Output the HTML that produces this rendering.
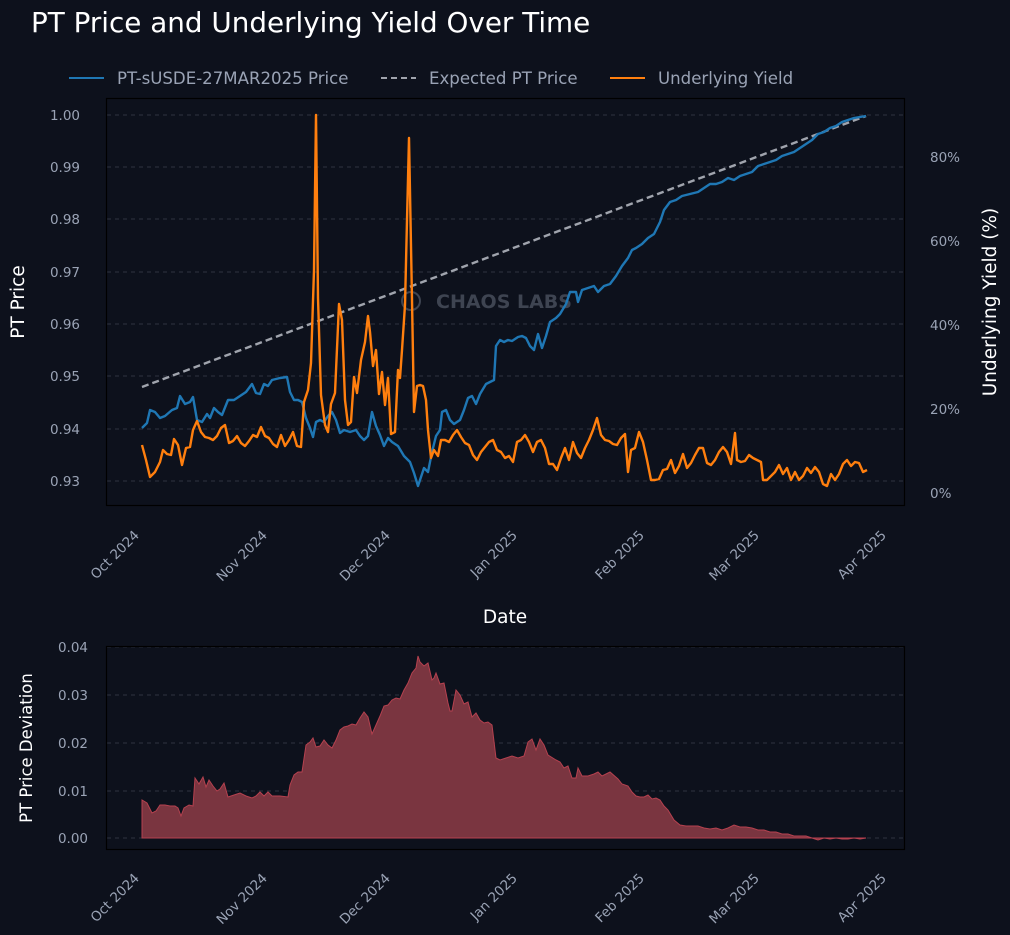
<!DOCTYPE html>
<html><head><meta charset="utf-8"><style>
html,body{margin:0;padding:0;background:#0d111c;}
svg{display:block;font-family:"DejaVu Sans","Liberation Sans",sans-serif;}
</style></head><body>
<svg width="1010" height="935" viewBox="0 0 1010 935" xmlns="http://www.w3.org/2000/svg">
<rect width="1010" height="935" fill="#0d111c"/>
<text x="31" y="32" font-size="27.8" fill="#ffffff">PT Price and Underlying Yield Over Time</text>
<!-- legend -->
<line x1="69" y1="78" x2="104" y2="78" stroke="#1f77b4" stroke-width="2"/>
<text x="117" y="84" font-size="16.6" fill="#9aa3b5">PT-sUSDE-27MAR2025 Price</text>
<line x1="381" y1="78" x2="416" y2="78" stroke="#a0a4ad" stroke-width="2" stroke-dasharray="6,4"/>
<text x="429" y="84" font-size="16.6" fill="#9aa3b5">Expected PT Price</text>
<line x1="610" y1="78" x2="645" y2="78" stroke="#ff7f0e" stroke-width="2"/>
<text x="658" y="84" font-size="16.6" fill="#9aa3b5">Underlying Yield</text>

<!-- top axes -->
<g stroke="#3a3f4b" stroke-width="0.8" stroke-dasharray="4,4">
<line x1="107" x2="904" y1="115" y2="115"/><line x1="107" x2="904" y1="167" y2="167"/>
<line x1="107" x2="904" y1="219" y2="219"/><line x1="107" x2="904" y1="272" y2="272"/>
<line x1="107" x2="904" y1="324" y2="324"/><line x1="107" x2="904" y1="376" y2="376"/>
<line x1="107" x2="904" y1="429" y2="429"/><line x1="107" x2="904" y1="481" y2="481"/>
</g>
<g font-size="13.5" fill="#9aa3b5" text-anchor="end">
<text x="80" y="120">1.00</text><text x="80" y="172">0.99</text><text x="80" y="224">0.98</text>
<text x="80" y="277">0.97</text><text x="80" y="329">0.96</text><text x="80" y="381">0.95</text>
<text x="80" y="434">0.94</text><text x="80" y="486">0.93</text>
</g>
<g font-size="13.5" fill="#9aa3b5">
<text x="930" y="162">80%</text><text x="930" y="246">60%</text><text x="930" y="330">40%</text>
<text x="930" y="414">20%</text><text x="930" y="498">0%</text>
</g>
<text transform="translate(24,302) rotate(-90)" font-size="18.5" fill="#ffffff" text-anchor="middle">PT Price</text>
<text transform="translate(996,302) rotate(-90)" font-size="18.5" fill="#ffffff" text-anchor="middle">Underlying Yield (%)</text>

<!-- watermark -->
<g opacity="0.35" fill="#9aa3b5">
<circle cx="411" cy="301" r="9" fill="none" stroke="#9aa3b5" stroke-width="2"/>
<text x="436" y="308" font-size="19" font-weight="bold">CHAOS LABS</text>
</g>

<polyline fill="none" stroke="#a0a4ad" stroke-width="2.4" stroke-dasharray="7,4" points="142,387 866,116"/>
<polyline fill="none" stroke="#1f77b4" stroke-width="2.4" stroke-linejoin="round" points="142,428 147,423 150,410 155,412 160,418 165,416 172,410 177,408 180,396 185,404 190,402 193,397 197,420 202,422 207,414 210,418 214,408 218,412 222,415 228,400 234,400 240,396 246,392 252,384 256,393 260,394 264,384 268,386 272,380 280,378 287,377 290,392 294,400 298,400 302,402 306,418 310,428 313,437 316,422 320,420 324,422 328,416 332,412 336,420 340,433 344,430 350,432 356,430 360,436 364,440 368,436 372,412 376,426 380,435 384,446 388,438 392,442 398,446 404,456 410,462 414,473 418,486 420,480 424,468 428,472 432,452 436,436 440,430 442,412 446,410 450,420 454,424 460,420 464,410 468,398 472,396 476,404 480,394 486,384 490,382 494,380 496,346 500,340 504,342 508,340 512,341 518,337 522,336 526,338 530,346 534,350 538,334 542,348 546,336 550,322 556,318 560,314 566,304 570,292 576,292 578,302 582,290 588,288 594,286 598,292 604,286 610,284 616,276 622,266 628,258 632,250 636,248 642,244 648,238 654,234 660,222 664,210 670,202 676,200 682,196 690,194 698,192 704,188 710,184 716,184 722,182 728,178 734,180 740,176 746,174 752,172 758,166 764,164 770,162 776,160 782,156 788,154 794,152 800,148 806,144 812,140 818,134 824,132 830,128 836,126 842,122 848,120 854,118 860,117 866,116"/>
<polyline fill="none" stroke="#ff7f0e" stroke-width="2.4" stroke-linejoin="round" points="142,445 146,460 150,477 155,472 160,462 163,450 167,454 171,455 174,439 178,445 182,465 186,448 190,447 193,430 197,421 201,432 205,437 209,438 213,440 217,436 221,428 225,425 229,443 233,441 237,436 241,443 245,446 249,441 253,435 257,437 261,427 265,436 269,438 273,444 277,447 281,435 285,446 289,440 293,432 297,446 301,447 304,402 308,390 311,363 314,270 316,115 318,298 321,395 325,425 328,432 331,404 335,393 339,304 342,320 345,400 348,425 351,422 354,377 357,393 361,360 365,342 368,316 370,332 373,366 376,350 379,394 382,372 385,405 388,378 391,434 395,432 398,370 400,378 402,350 405,305 407,220 409,138 412,300 414,412 417,386 420,385 423,386 426,400 428,430 431,458 434,450 438,456 441,440 445,440 449,442 453,435 457,430 461,437 465,443 469,445 473,455 477,460 481,452 485,447 489,442 493,440 497,450 501,452 505,458 509,456 513,462 517,442 521,440 525,435 529,442 533,452 537,442 541,440 545,448 549,464 553,464 557,470 561,458 565,448 569,460 573,442 577,453 581,458 585,448 589,440 593,430 597,418 601,435 605,440 609,441 613,444 617,445 621,438 625,434 628,472 631,450 635,448 639,432 643,442 647,460 651,480 655,480 659,479 663,470 667,469 671,460 675,473 679,466 683,454 687,468 691,463 695,455 699,448 703,448 707,463 711,465 715,460 719,452 723,447 727,452 731,464 735,433 737,460 741,462 745,461 749,455 753,458 757,460 761,462 763,480 767,480 771,476 775,472 779,465 783,474 787,468 791,480 795,472 799,480 803,476 807,468 811,473 815,467 819,472 823,484 827,486 831,474 835,480 839,474 843,464 847,460 851,466 855,462 859,463 863,472 867,470"/>
<rect x="106.5" y="98.5" width="798" height="407" fill="none" stroke="#000" stroke-width="1.2"/>

<!-- top x labels -->
<g font-size="13.5" fill="#9aa3b5" text-anchor="end">
<text transform="translate(140,536) rotate(-45)">Oct 2024</text>
<text transform="translate(268,536) rotate(-45)">Nov 2024</text>
<text transform="translate(391,536) rotate(-45)">Dec 2024</text>
<text transform="translate(518,536) rotate(-45)">Jan 2025</text>
<text transform="translate(645,536) rotate(-45)">Feb 2025</text>
<text transform="translate(760,536) rotate(-45)">Mar 2025</text>
<text transform="translate(887,536) rotate(-45)">Apr 2025</text>
</g>
<text x="505" y="623" font-size="18.5" fill="#ffffff" text-anchor="middle">Date</text>

<!-- bottom axes -->
<g stroke="#3a3f4b" stroke-width="0.8" stroke-dasharray="4,4">
<line x1="107" x2="904" y1="647" y2="647"/><line x1="107" x2="904" y1="695" y2="695"/>
<line x1="107" x2="904" y1="743" y2="743"/><line x1="107" x2="904" y1="791" y2="791"/>
<line x1="107" x2="904" y1="838" y2="838"/>
</g>
<g font-size="13.5" fill="#9aa3b5" text-anchor="end">
<text x="88" y="652">0.04</text><text x="88" y="700">0.03</text><text x="88" y="748">0.02</text>
<text x="88" y="796">0.01</text><text x="88" y="843">0.00</text>
</g>
<text transform="translate(32,748) rotate(-90)" font-size="16.5" fill="#ffffff" text-anchor="middle">PT Price Deviation</text>
<polygon fill="#7a3540" stroke="#b5414f" stroke-width="1" points="142,838 142,800 147,803 152,813 156,811 160,805 165,805 170,806 175,806 178,808 181,816 184,808 189,805 193,806 195,778 199,784 203,777 206,787 209,780 213,786 217,791 220,789 224,783 228,797 234,795 240,793 246,796 252,798 256,796 260,792 264,796 268,792 272,796 280,796 288,797 290,785 294,775 298,772 302,772 306,745 310,742 313,738 316,747 320,746 324,740 328,745 332,748 336,740 340,730 344,727 348,726 352,724 356,725 360,718 364,712 368,717 372,734 376,725 380,716 384,706 388,705 392,700 396,698 400,699 404,690 408,683 412,673 416,668 418,656 420,662 424,666 428,663 432,680 434,678 436,673 440,684 444,683 448,703 450,711 452,711 456,690 460,695 464,704 468,702 472,717 476,713 480,720 484,723 488,722 492,725 496,758 500,760 506,758 512,756 518,758 524,756 528,742 532,739 536,750 540,739 544,745 548,755 556,760 560,762 564,768 568,766 572,778 576,778 578,768 582,776 588,776 594,774 598,772 602,776 610,772 618,779 622,784 628,786 632,792 636,796 640,797 644,797 648,795 652,799 656,798 660,800 664,806 668,810 674,820 680,825 686,826 692,826 698,826 704,828 710,829 716,828 722,830 728,828 734,825 740,827 746,827 752,828 758,830 764,830 770,832 776,832 782,834 788,834 794,836 800,836 806,836 812,838 818,840 824,838 830,839 836,838 842,839 848,839 854,838 860,839 866,838 866,838"/>
<rect x="106.5" y="646.5" width="798" height="203" fill="none" stroke="#000" stroke-width="1.2"/>
<g font-size="13.5" fill="#9aa3b5" text-anchor="end">
<text transform="translate(140,879) rotate(-45)">Oct 2024</text>
<text transform="translate(268,879) rotate(-45)">Nov 2024</text>
<text transform="translate(391,879) rotate(-45)">Dec 2024</text>
<text transform="translate(518,879) rotate(-45)">Jan 2025</text>
<text transform="translate(645,879) rotate(-45)">Feb 2025</text>
<text transform="translate(760,879) rotate(-45)">Mar 2025</text>
<text transform="translate(887,879) rotate(-45)">Apr 2025</text>
</g>
</svg>
</body></html>
